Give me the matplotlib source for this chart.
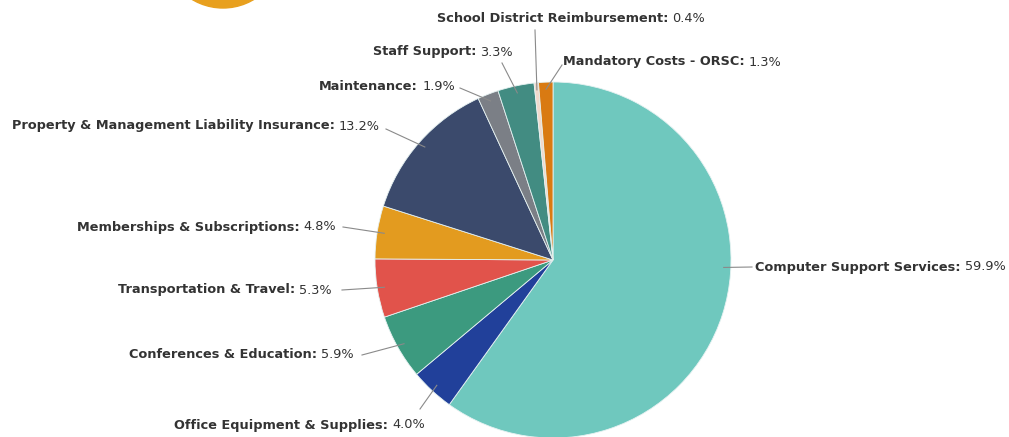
"""Expense breakdown pie with outside labels (matplotlib Agg backend)."""

import matplotlib
matplotlib.use("Agg")
import matplotlib.pyplot as plt
import numpy as np
from matplotlib.offsetbox import TextArea, HPacker, AnnotationBbox
from matplotlib.patches import Circle

categories = [
    "Computer Support Services",
    "Office Equipment & Supplies",
    "Conferences & Education",
    "Transportation & Travel",
    "Memberships & Subscriptions",
    "Property & Management Liability Insurance",
    "Maintenance",
    "Staff Support",
    "School District Reimbursement",
    "Mandatory Costs - ORSC",
]
shares = [59.9, 4.0, 5.9, 5.3, 4.8, 13.2, 1.9, 3.3, 0.4, 1.3]
colors = ["#6fc8be", "#21409a", "#3c9a7f", "#e1534b", "#e39b1f",
          "#3b4a6c", "#7b7f86", "#428c82", "#f1d9cc", "#d97a12"]

# layout (pixel space, y measured from top of image)
_W, _H = 1009, 437
_CX, _CY, _R = 553, 260, 178
# label anchor (x, y, side) and connector end near the label
label_pos = [
    (755, 267, "left"), (425, 425, "right"), (354, 355, "right"),
    (332, 290, "right"), (336, 227, "right"), (380, 126, "right"),
    (455, 86, "right"), (513, 52, "right"), (437, 18, "left"),
    (563, 62, "left"),
]
line_end = [
    (752, 267), (420, 409), (362, 355), (342, 290), (343, 227),
    (386, 129), (460, 88), (502, 63), (535, 30), (562, 65),
]
angle_override = {0: -2.5}

_FONT = "DejaVu Sans"
_FS = 9.3
_TXT = "#333333"


def _y(v):
    return _H - v


fig = plt.figure(figsize=(_W / 100, _H / 100), dpi=100)
ax = fig.add_axes([0, 0, 1, 1])

wedges, _ = ax.pie(
    shares, colors=colors, startangle=90, counterclock=False,
    center=(_CX, _y(_CY)), radius=_R,
    wedgeprops=dict(edgecolor="#e6f2f2", linewidth=0.6),
)
ax.set_xlim(0, _W)
ax.set_ylim(0, _H)
ax.set_aspect("equal")
ax.axis("off")

# partially visible logo at the top
ax.add_patch(Circle((223, _y(-52)), 60, color="#e8a01e", zorder=0,
                    clip_on=False))

for i, (name, pct) in enumerate(zip(categories, shares)):
    w = wedges[i]
    ang = angle_override.get(i, (w.theta1 + w.theta2) / 2)
    sx = _CX + 0.96 * _R * np.cos(np.radians(ang))
    sy = _y(_CY) + 0.96 * _R * np.sin(np.radians(ang))
    ex, ey = line_end[i]
    ax.plot([sx, ex], [sy, _y(ey)], color="#8a8a8a", linewidth=0.8,
            zorder=3)

    lx, ly, side = label_pos[i]
    a = TextArea(f"{name}:", textprops=dict(fontweight="bold", fontsize=_FS,
                                             color=_TXT, family=_FONT))
    b = TextArea(f"{pct:.1f}%", textprops=dict(fontsize=_FS, color=_TXT,
                                               family=_FONT))
    box = HPacker(children=[a, b], pad=0, sep=3, align="baseline")
    align = (0, 0.5) if side == "left" else (1, 0.5)
    ab = AnnotationBbox(box, (lx, _y(ly)), xycoords="data",
                        box_alignment=align, frameon=False, pad=0)
    ax.add_artist(ab)

fig.savefig("out.png", dpi=100)
